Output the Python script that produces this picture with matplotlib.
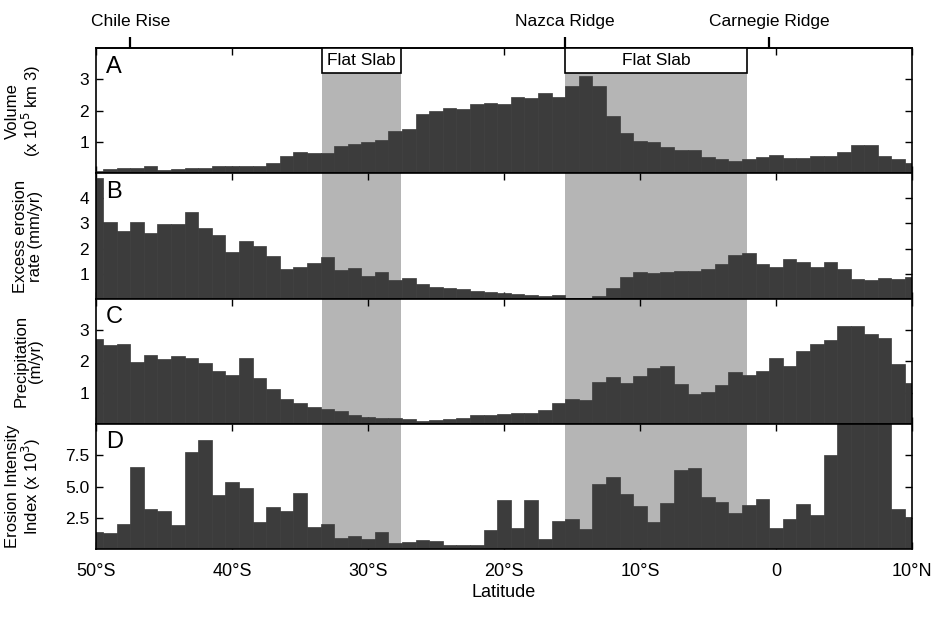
import numpy as np
import matplotlib
matplotlib.use("Agg")
import matplotlib.pyplot as plt
from matplotlib.patches import Rectangle

plt.rcParams['font.family'] = ['Liberation Sans', 'DejaVu Sans']
narrow = ['Liberation Sans Narrow', 'Liberation Sans', 'DejaVu Sans']

# 1-degree bins centred on whole degrees, 50S .. 10N
lat = np.arange(-50, 11)

# A: volume (x 10^5 km^3)
volume = [0.06, 0.15, 0.16, 0.18, 0.24, 0.10, 0.15, 0.16, 0.18, 0.22,
          0.23, 0.24, 0.23, 0.32, 0.55, 0.68, 0.64, 0.64, 0.86, 0.93,
          0.99, 1.06, 1.34, 1.42, 1.89, 2.00, 2.10, 2.04, 2.21,
          2.26, 2.20, 2.43, 2.42, 2.56, 2.44, 2.78, 3.11, 2.78, 1.83,
          1.30, 1.02, 1.01, 0.84, 0.76, 0.75, 0.51, 0.45, 0.38, 0.45,
          0.51, 0.58, 0.50, 0.50, 0.56, 0.55, 0.67, 0.91, 0.90, 0.57,
          0.45, 0.32]

# B: excess erosion rate (mm/yr)
erosion = [4.81, 3.06, 2.70, 3.06, 2.61, 2.97, 2.96, 3.44, 2.83, 2.55,
           1.87, 2.32, 2.10, 1.72, 1.18, 1.27, 1.43, 1.65, 1.13, 1.22,
           0.90, 1.07, 0.74, 0.84, 0.58, 0.47, 0.41, 0.37, 0.30, 0.25,
           0.23,
           0.17, 0.16, 0.09, 0.15, 0.03, 0.02, 0.12, 0.41, 0.88, 1.07,
           1.03, 1.08, 1.09, 1.10, 1.18, 1.39, 1.75, 1.83, 1.38, 1.26,
           1.60, 1.46, 1.26, 1.46, 1.17, 0.80, 0.75, 0.81, 0.80, 0.87]

# C: precipitation (m/yr)
precip = [2.72, 2.53, 2.56, 1.97, 2.20, 2.08, 2.16, 2.10, 1.93, 1.68,
          1.56, 2.09, 1.46, 1.10, 0.81, 0.67, 0.55, 0.46, 0.41, 0.29,
          0.22, 0.18, 0.18, 0.17, 0.10, 0.12, 0.17, 0.18, 0.28, 0.29,
          0.30,
          0.36, 0.35, 0.43, 0.66, 0.78, 0.77, 1.35, 1.49, 1.29, 1.54,
          1.78, 1.85, 1.26, 0.97, 1.02, 1.25, 1.67, 1.56, 1.68, 2.09,
          1.85, 2.33, 2.56, 2.69, 3.14, 3.14, 2.86, 2.74, 1.92, 1.32]

# D: erosion intensity index (x 10^3)
intensity = [1.34, 1.31, 2.04, 6.53, 3.17, 3.04, 1.92, 7.78, 8.69, 4.34,
             5.36, 4.91, 2.18, 3.36, 3.02, 4.49, 1.77, 2.04, 0.90, 1.03,
             0.79, 1.33, 0.48, 0.57, 0.76, 0.63, 0.34, 0.31, 0.29, 1.52,
             3.94, 1.69, 3.94, 0.84, 2.24, 2.38, 1.58, 5.17, 5.73, 4.42,
             3.44, 2.13, 3.71, 6.31, 6.48, 4.18, 3.73, 2.88, 3.50, 4.03,
             1.71, 2.44, 3.57, 2.74, 7.51, 12.0, 12.0, 12.0, 12.0, 3.19,
             2.59]

flat_slabs = [(-33.4, -27.6), (-15.5, -2.1)]
ridge_lat = [-47.5, -15.5, -0.5]
ridge_names = ['Chile Rise', 'Nazca Ridge', 'Carnegie Ridge']

xticks = [-50, -40, -30, -20, -10, 0, 10]
xticklabels = ['50°S', '40°S', '30°S', '20°S', '10°S', '0', '10°N']

series = [volume, erosion, precip, intensity]
letters = ['A', 'B', 'C', 'D']
ylabels = ['Volume\n(x 10$^5$ km 3)', 'Excess erosion\nrate (mm/yr)',
           'Precipitation\n(m/yr)', 'Erosion Intensity\nIndex (x 10$^3$)']
ylims = [(0, 4), (0, 5), (0, 4), (0, 10)]
yticks = [[1, 2, 3], [1, 2, 3, 4], [1, 2, 3], [2.5, 5.0, 7.5]]
yticklabels = [['1', '2', '3'], ['1', '2', '3', '4'], ['1', '2', '3'],
               ['2.5', '5.0', '7.5']]

bar_col = '#3c3c3c'
shade_col = '#b5b5b5'
box_bottom = 3.22

fig, axes = plt.subplots(4, 1, sharex=True, figsize=(9.43, 6.17), dpi=100)
fig.subplots_adjust(left=0.102, right=0.967, top=0.922, bottom=0.110, hspace=0)

for i, ax in enumerate(axes):
    ax.set_xlim(-50, 10)
    ax.set_ylim(*ylims[i])
    for lo, hi in flat_slabs:
        if i == 0:
            ax.axvspan(lo, hi, ymin=0, ymax=box_bottom / ylims[0][1],
                       color=shade_col, lw=0, zorder=0)
        else:
            ax.axvspan(lo, hi, color=shade_col, lw=0, zorder=0)
    ax.bar(lat, series[i], width=1.0, color=bar_col, edgecolor=bar_col,
           linewidth=0.5, zorder=2)
    ax.set_yticks(yticks[i], labels=yticklabels[i])
    ax.set_xticks(xticks)
    ax.tick_params(direction='in', top=True, right=True, length=5, width=1,
                   labelsize=12.5, pad=5)
    ax.text(0.012, 0.94, letters[i], transform=ax.transAxes, fontsize=17,
            va='top', ha='left', zorder=5)
    ax.set_ylabel(ylabels[i], fontsize=12, linespacing=1.0)
    ax.yaxis.set_label_coords(-0.065, 0.5)
    for s in ax.spines.values():
        s.set_linewidth(1.2)
        s.set_zorder(6)

axes[-1].set_xticks(xticks, labels=xticklabels)
for t in axes[-1].get_xticklabels():
    t.set_fontfamily(narrow)
    t.set_fontsize(13)
axes[-1].tick_params(axis='x', pad=10)
axes[-1].set_xlabel('Latitude', fontsize=13, labelpad=3)

# Flat slab boxes on top of panel A
axA = axes[0]
for lo, hi in flat_slabs:
    axA.add_patch(Rectangle((lo, box_bottom), hi - lo, ylims[0][1] - box_bottom,
                            facecolor='white', edgecolor='black', lw=1.2,
                            zorder=7, clip_on=False))
    axA.text((lo + hi) / 2, (box_bottom + ylims[0][1]) / 2, 'Flat Slab',
             ha='center', va='center', fontsize=12.5, zorder=8)

# ridge markers along the top edge
secax = axA.secondary_xaxis('top')
secax.set_xticks(ridge_lat, labels=ridge_names)
secax.tick_params(direction='out', length=8, width=1.6, pad=6)
for t in secax.get_xticklabels():
    t.set_fontfamily(narrow)
    t.set_fontsize(12.5)
secax.spines['top'].set_linewidth(1.2)

fig.savefig('out.png', dpi=100)
